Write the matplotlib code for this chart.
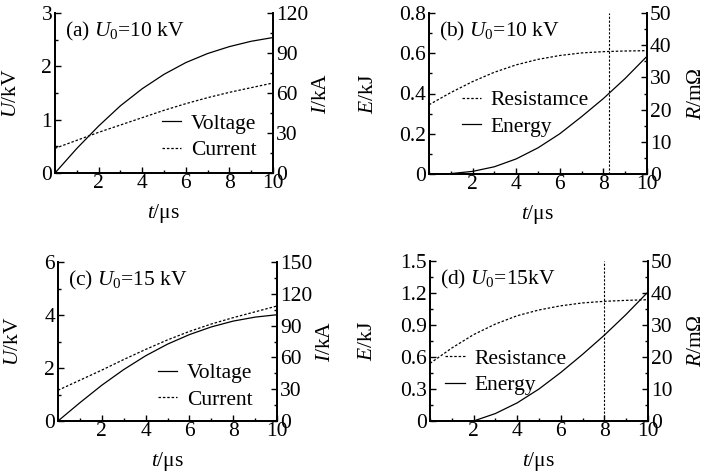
import numpy as np
import matplotlib
matplotlib.use("Agg")
import matplotlib.pyplot as plt
from matplotlib.ticker import AutoMinorLocator, FuncFormatter

plt.rcParams['font.family'] = ['Liberation Serif', 'DejaVu Serif']
plt.rcParams['mathtext.fontset'] = 'custom'
plt.rcParams['mathtext.rm'] = 'Liberation Serif'
plt.rcParams['mathtext.it'] = 'Liberation Serif:italic'
plt.rcParams['font.size'] = 15

# waktu (us)
t = [0, 1, 2, 3, 4, 5, 6, 7, 8, 9, 10]

# (a) U0 = 10 kV
volt_a = [0, 0.46, 0.88, 1.26, 1.58, 1.85, 2.07, 2.24, 2.37, 2.47, 2.54]
curr_a = [18.5, 24.5, 30.5, 36, 41.5, 47, 52, 56.5, 60.5, 64, 67.5]

# (b) U0 = 10 kV
t_eb = [0, 0.7, 1, 2, 3, 4, 5, 6, 7, 8, 9, 10]
energy_b = [0, 0, 0.002, 0.013, 0.036, 0.075, 0.13, 0.2, 0.285, 0.375, 0.475, 0.585]
res_b = [21.5, 25.3, 28.7, 31.6, 33.9, 35.6, 36.8, 37.6, 38.0, 38.2, 38.3]
tmark_b = 8.25

# (c) U0 = 15 kV
volt_c = [0, 0.69, 1.35, 1.94, 2.46, 2.9, 3.26, 3.55, 3.77, 3.92, 4.01]
curr_c = [29, 38.5, 48, 58, 67.5, 76.5, 84.5, 91.5, 97.5, 103, 108.5]

# (d) U0 = 15 kV
t_ed = [2, 3, 4, 5, 6, 7, 8, 9, 10]
energy_d = [0, 0.07, 0.17, 0.3, 0.455, 0.625, 0.805, 1.0, 1.21]
res_d = [18, 22.8, 27, 30.3, 32.9, 34.7, 36.0, 36.9, 37.4, 37.7, 37.9]
tmark_d = 7.97

W, H = 713, 474
fig = plt.figure(figsize=(W / 100, H / 100), dpi=100)


def kotak(x0, y0, x1, y1):
    # piksel -> koordinat figure
    return [x0 / W, 1 - y1 / H, (x1 - x0) / W, (y1 - y0) / H]


fmt = FuncFormatter(lambda v, p: '0' if abs(v) < 1e-9 else '%g' % round(v, 3))


def gaya(ax, ylim, yticks):
    ax.set_xlim(0, 10)
    ax.set_ylim(*ylim)
    ax.set_yticks(yticks)
    ax.yaxis.set_major_formatter(fmt)
    ax.yaxis.set_minor_locator(AutoMinorLocator(2))
    ax.spines['top'].set_visible(False)
    for s in ax.spines.values():
        s.set_linewidth(1.3)
    ax.tick_params(which='both', direction='in', width=1.0, pad=2, labelsize=15.5)
    ax.tick_params(which='major', length=4)
    ax.tick_params(which='minor', length=2.5)


def panel(rect, left_data, right_data, left_lim, left_ticks, right_lim, right_ticks,
          left_label, right_label, judul, leg_pos, urutan, lab_x, tmark=None):
    ax = fig.add_axes(kotak(*rect))
    ax2 = ax.twinx()
    gaya(ax, left_lim, left_ticks)
    gaya(ax2, right_lim, right_ticks)
    ax.set_xticks([2, 4, 6, 8, 10])
    ax.xaxis.set_minor_locator(AutoMinorLocator(2))
    ax.tick_params(axis='x', pad=1)

    lx, ly, lname, lstyle = left_data
    rx, ry, rname, rstyle = right_data
    h1, = ax.plot(lx, ly, color='black', lw=0.9, ls=lstyle, label=lname)
    h2, = ax2.plot(rx, ry, color='black', lw=0.9, ls=rstyle, label=rname)
    if tmark is not None:
        ax.axvline(tmark, color='black', lw=0.8, ls=(0, (2, 1.5)))

    ax.set_xlabel('$t$/μs', fontsize=15.5, labelpad=6)
    ax.set_ylabel(left_label, fontsize=15.5)
    ax2.set_ylabel(right_label, fontsize=15.5)
    ax.yaxis.set_label_coords(lab_x[0], 0.5)
    ax2.yaxis.set_label_coords(lab_x[1], 0.5)
    ax.text(0.045, 0.955, judul, transform=ax.transAxes, fontsize=15.5, va='top', ha='left')

    handles = [h1, h2] if urutan == 'lr' else [h2, h1]
    ax2.legend(handles=handles, loc='lower left', bbox_to_anchor=leg_pos, frameon=False,
               fontsize=15.5, handlelength=0.9, handletextpad=0.45, labelspacing=0.3,
               borderpad=0, borderaxespad=0)
    return ax, ax2


dotted = (0, (2, 1.5))

panel((55, 13, 273, 173),
      (t, volt_a, 'Voltage', '-'), (t, curr_a, 'Current', dotted),
      (0, 3), [0, 1, 2, 3], (0, 120), [0, 30, 60, 90, 120],
      '$U$/kV', '$I$/kA', '(a) $U_0$=10 kV', (0.49, 0.08), 'lr', (-0.155, 1.18))

panel((429, 13, 647, 174),
      (t_eb, energy_b, 'Energy', '-'), (t, res_b, 'Resistamce', dotted),
      (0, 0.8), [0, 0.2, 0.4, 0.6, 0.8], (0, 50), [0, 10, 20, 30, 40, 50],
      '$E$/kJ', '$R$/mΩ', '(b) $U_0$=10 kV', (0.15, 0.23), 'rl', (-0.235, 1.185), tmark_b)

panel((58, 262, 277, 421),
      (t, volt_c, 'Voltage', '-'), (t, curr_c, 'Current', dotted),
      (0, 6), [0, 2, 4, 6], (0, 150), [0, 30, 60, 90, 120, 150],
      '$U$/kV', '$I$/kA', '(c) $U_0$=15 kV', (0.455, 0.07), 'lr', (-0.16, 1.18))

panel((430, 261, 648, 421),
      (t_ed, energy_d, 'Energy', '-'), (t, res_d, 'Resistance', dotted),
      (0, 1.5), [0, 0.3, 0.6, 0.9, 1.2, 1.5], (0, 50), [0, 10, 20, 30, 40, 50],
      '$E$/kJ', '$R$/mΩ', '(d) $U_0$=15kV', (0.07, 0.16), 'rl', (-0.245, 1.18), tmark_d)

plt.savefig('out.png', dpi=100)
